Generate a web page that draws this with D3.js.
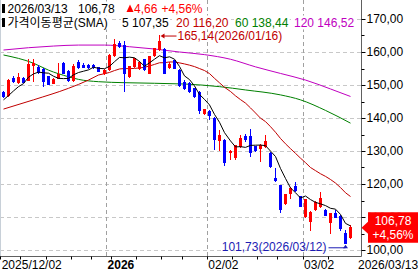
<!DOCTYPE html>
<html>
<head>
<meta charset="utf-8">
<title>SMA candles</title>
<script src="https://d3js.org/d3.v7.min.js"></script>
<style>
    body { margin: 0; background: #fff; }
    text { font-family: "Liberation Sans", "Noto Sans CJK KR", sans-serif; font-size: 12px; }
</style>
</head>
<body>
<svg id="chart" width="418" height="272"></svg>
<script>
// trading days: weekdays minus market holidays
const holidays = ["2025-12-25", "2026-01-01", "2026-01-19", "2026-02-16"];

// daily OHLC, 2025/12/02 .. 2026/03/13
const open = [147.7, 146.8, 152.0, 150.7, 152.0, 151.4, 155.9, 155.4, 154.8, 152.5,
    150.4, 152.0, 156.6, 154.2, 151.3, 156.8, 155.9, 155.9, 155.8, 155.2,
    153.6, 154.6, 158.8, 162.6, 162.1, 152.6, 155.5, 154.9, 157.6, 153.6,
    158.8, 160.7, 160.8, 155.4, 157.3, 154.5, 150.8, 150.5, 148.8, 147.8,
    141.4, 142.0, 139.9, 133.2, 133.3, 129.4, 128.0, 131.4, 134.5, 134.3,
    131.3, 130.8, 131.4, 129.3, 121.6, 119.4, 114.0, 117.0, 119.1, 116.2,
    110.2, 108.6, 112.2, 113.1, 112.1, 108.4, 111.2, 110.1, 105.0, 103.8];
const high = [148.1, 151.8, 152.6, 153.5, 152.3, 157.8, 157.9, 156.2, 155.3, 152.8,
    152.0, 156.6, 157.0, 154.5, 156.4, 157.5, 156.6, 156.4, 156.3, 155.5,
    154.8, 159.4, 163.8, 163.4, 163.3, 155.9, 158.2, 157.2, 158.0, 158.9,
    161.2, 165.14, 161.2, 157.0, 157.6, 155.0, 151.4, 151.0, 149.2, 148.2,
    142.8, 142.4, 140.3, 136.4, 133.6, 130.4, 131.9, 134.9, 135.3, 136.6,
    131.6, 132.0, 134.8, 129.6, 124.7, 119.6, 117.0, 119.0, 120.6, 116.5,
    115.5, 111.8, 114.8, 117.5, 112.4, 111.3, 112.0, 110.5, 106.0, 107.5];
const low = [146.0, 146.4, 150.5, 150.4, 150.6, 151.2, 151.0, 153.4, 149.4, 150.0,
    150.2, 151.8, 153.3, 150.9, 151.0, 155.0, 155.1, 155.0, 155.0, 153.8,
    152.9, 154.3, 158.5, 161.3, 147.8, 152.2, 155.2, 154.5, 154.2, 153.2,
    158.4, 160.3, 153.2, 154.8, 154.8, 149.5, 148.5, 147.6, 146.0, 141.2,
    141.0, 139.3, 130.3, 129.9, 125.6, 127.3, 127.4, 131.0, 132.8, 128.3,
    129.8, 126.8, 131.0, 124.7, 120.7, 111.2, 113.6, 115.4, 117.7, 112.9,
    109.8, 105.8, 111.8, 112.8, 110.2, 104.7, 109.7, 105.8, 101.73, 103.2];
const close = [146.6, 151.5, 151.0, 152.2, 150.8, 156.3, 156.5, 153.8, 151.0, 150.3,
    151.7, 153.3, 153.4, 151.3, 155.7, 155.2, 155.3, 155.4, 155.3, 154.1,
    154.5, 159.0, 162.4, 161.8, 153.5, 155.5, 158.0, 156.8, 154.6, 158.7,
    161.0, 163.3, 153.6, 156.1, 155.1, 150.0, 149.0, 148.0, 146.5, 142.2,
    142.5, 140.7, 133.5, 134.6, 126.5, 130.0, 131.6, 133.9, 133.5, 129.5,
    130.3, 131.8, 133.0, 125.3, 121.2, 112.2, 116.7, 118.7, 118.0, 113.2,
    115.2, 111.3, 114.5, 115.7, 110.6, 111.1, 110.0, 106.5, 102.12, 106.78];

const ma5Lead = [[0, 145.5], [1, 146.8], [2, 148.2], [3, 149.5]];
const ma20Lead = [[0, 142.7], [6, 145.5], [13, 149.0], [17, 151.5]];
const ma60 = [[0, 159.1], [6, 156.6], [9, 154.5], [13, 152.5], [15, 151.7], [19, 151.0], [24, 150.7],
    [36, 150.3], [43, 149.5], [48, 148.5], [55, 147.0], [59, 145.5], [64, 142.3], [69, 138.44]];
const ma120 = [[0, 160.6], [5, 161.3], [10, 161.8], [15, 162.1], [20, 162.1], [25, 161.6], [30, 160.9],
    [35, 160.0], [40, 159.2], [45, 157.8], [50, 155.5], [55, 153.5], [60, 151.5], [65, 148.8], [69, 146.52]];

const yTicks = [100, 110, 120, 130, 140, 150, 160, 170];
const yMinor = [105, 115, 125, 135, 145, 155, 165];
const xLabels = [["2025-12-02", "2025/12/02"], ["2026-01-02", "2026"], ["2026-02-02", "02/02"], ["2026-03-02", "03/02"]];
const lastDate = "2026/03/13";
const lastClose = 106.78, change = 4.66, changePct = 4.56;
const maLegend = [["5", 107.35], ["20", 116.20], ["60", 138.44], ["120", 146.52]];
const highMark = { day: "2026-01-16", value: 165.14, label: "2026/01/16" };
const lowMark = { day: "2026-03-12", value: 101.73, label: "2026/03/12" };

const RED = "#ff0000", BLUE = "#0000ff", MA20C = "#c00000", MA60C = "#008000", MA120C = "#c000c0";

const svg = d3.select("svg"),
    width = +svg.attr("width"),
    height = +svg.attr("height");

const fmtDay = d3.timeFormat("%Y-%m-%d");
const days = d3.timeDay.range(new Date(2025, 11, 2), new Date(2026, 2, 14))
    .filter(d => d.getDay() > 0 && d.getDay() < 6 && !holidays.includes(fmtDay(d)));
const keys = days.map(fmtDay);

const x = d3.scaleBand().domain(keys).range([0.7, 0.7 + 5.04 * keys.length]);
const y = d3.scaleLinear().domain([100, 170]).range([250, 19]);
const cx = i => Math.round(x(keys[i]) + x.bandwidth() / 2 - 1.5) + 1.5;
const num = (v, p = 2) => d3.format("." + p + "f")(v).replace(".", ",");

const right = 361.5, bottom = 256.5;

// grid
svg.append("g").selectAll("line").data(yTicks).join("line")
    .attr("x1", 0).attr("x2", right)
    .attr("y1", d => Math.round(y(d)) + 0.5).attr("y2", d => Math.round(y(d)) + 0.5)
    .attr("stroke", "#c8c8c8").attr("stroke-dasharray", "4,3");
svg.append("g").selectAll("line").data(xLabels.slice(1)).join("line")
    .attr("x1", d => Math.floor(x(d[0])) + 0.5).attr("x2", d => Math.floor(x(d[0])) + 0.5)
    .attr("y1", 0).attr("y2", bottom)
    .attr("stroke", "#a0a0a0").attr("stroke-dasharray", "4,3");
svg.append("line").attr("x1", 0.5).attr("x2", 0.5).attr("y1", 0).attr("y2", bottom).attr("stroke", "#c8d0d8");

// moving averages
const line = d3.line().x(d => cx(d[0])).y(d => y(d[1]));
const smooth = d3.line().x(d => cx(d[0])).y(d => y(d[1])).curve(d3.curveMonotoneX);
const sma = n => close.map((c, i) => i < n - 1 ? null : [i, d3.mean(close.slice(i - n + 1, i + 1))]).filter(d => d);

svg.append("path").attr("d", smooth(ma120)).attr("fill", "none").attr("stroke", MA120C);
svg.append("path").attr("d", smooth(ma60)).attr("fill", "none").attr("stroke", MA60C);
svg.append("path").attr("d", smooth(ma20Lead.concat([sma(20)[0]]))).attr("fill", "none").attr("stroke", MA20C);
svg.append("path").attr("d", line(sma(20))).attr("fill", "none").attr("stroke", MA20C);

// candles
const candles = svg.append("g").attr("shape-rendering", "crispEdges")
    .selectAll("g").data(d3.range(keys.length)).join("g")
    .attr("fill", i => close[i] >= open[i] ? RED : BLUE)
    .attr("stroke", i => close[i] >= open[i] ? RED : BLUE);
candles.append("line")
    .attr("x1", cx).attr("x2", cx)
    .attr("y1", i => y(high[i])).attr("y2", i => y(low[i]));
candles.append("rect")
    .attr("x", i => cx(i) - 1.5).attr("width", 2)
    .attr("y", i => y(Math.max(open[i], close[i])))
    .attr("height", i => Math.max(0.5, Math.abs(y(open[i]) - y(close[i]))));

svg.append("path").attr("d", line(ma5Lead.concat(sma(5)))).attr("fill", "none").attr("stroke", "#000");

// axes
svg.append("line").attr("x1", right).attr("x2", right).attr("y1", 0).attr("y2", bottom).attr("stroke", "#606060");
svg.append("line").attr("x1", 0).attr("x2", right).attr("y1", bottom).attr("y2", bottom).attr("stroke", "#606060");

const yc = y(lastClose);
const tagTop = yc - 15.5;

svg.append("clipPath").attr("id", "above-tag")
    .append("rect").attr("x", right).attr("y", 0).attr("width", 60).attr("height", tagTop);

const yAxis = svg.append("g");
yAxis.selectAll(".maj").data(yTicks).join("line")
    .attr("x1", right).attr("x2", right + 4)
    .attr("y1", d => Math.round(y(d)) + 0.5).attr("y2", d => Math.round(y(d)) + 0.5).attr("stroke", "#000");
yAxis.selectAll(".min").data(yMinor).join("line")
    .attr("x1", right).attr("x2", right + 3)
    .attr("y1", d => Math.round(y(d)) + 0.5).attr("y2", d => Math.round(y(d)) + 0.5).attr("stroke", "#000");
yAxis.selectAll("text").data(yTicks).join("text")
    .attr("x", right + 5).attr("y", d => y(d)).attr("dy", "0.36em")
    .attr("clip-path", d => Math.abs(y(d) - yc) < 20 ? "url(#above-tag)" : null)
    .text(d => num(d));

const weekStarts = keys.filter((k, i) => i === 0 || days[i].getDay() < days[i - 1].getDay());
svg.append("g").selectAll("line").data(weekStarts).join("line")
    .attr("x1", d => Math.floor(x(d)) + 0.5).attr("x2", d => Math.floor(x(d)) + 0.5)
    .attr("y1", bottom).attr("y2", bottom + 3).attr("stroke", "#000");
svg.append("g").selectAll("text").data(xLabels).join("text")
    .attr("x", d => x(d[0]) + 1).attr("y", 269)
    .attr("font-weight", d => d[1] === "2026" ? "bold" : null)
    .text(d => d[1]);
svg.append("text").attr("x", 358).attr("y", 269).text(lastDate);

// current price tag
svg.append("path")
    .attr("d", `M361.5,${yc}L368,${yc - 6}L368,${tagTop}L418,${tagTop}L418,${yc + 15}L368,${yc + 15}L368,${yc + 6}Z`)
    .attr("fill", RED);
svg.append("text").attr("x", 393).attr("y", yc - 3).attr("text-anchor", "middle").attr("fill", "#fff").text(num(lastClose));
svg.append("text").attr("x", 393).attr("y", yc + 11).attr("text-anchor", "middle").attr("fill", "#fff").text("+" + num(changePct) + "%");

// high / low markers
const hi = keys.indexOf(highMark.day), lo = keys.indexOf(lowMark.day);
const yh = y(highMark.value), yl = y(lowMark.value);
svg.append("path").attr("d", `M${cx(hi) + 1},${yh + 1}L${cx(hi) + 5},${yh - 1.5}L${cx(hi) + 5},${yh + 3.5}Z`).attr("fill", MA20C);
svg.append("line").attr("x1", cx(hi) + 4).attr("x2", cx(hi) + 17).attr("y1", yh + 1).attr("y2", yh + 1).attr("stroke", MA20C);
svg.append("text").attr("x", cx(hi) + 18).attr("y", yh + 5).attr("fill", MA20C)
    .text(num(highMark.value) + "(" + highMark.label + ")");
const LOWC = "#1c1cb4";
svg.append("text").attr("x", cx(lo) - 19).attr("y", yl + 7).attr("text-anchor", "end").attr("fill", LOWC)
    .text(num(lowMark.value) + "(" + lowMark.label + ")");
svg.append("line").attr("x1", cx(lo) - 17).attr("x2", cx(lo)).attr("y1", yl + 3.5).attr("y2", yl + 3.5).attr("stroke", LOWC);
svg.append("path").attr("d", `M${cx(lo)},${yl + 0.5}L${cx(lo) - 2.5},${yl + 4}L${cx(lo) + 2.5},${yl + 4}Z`).attr("fill", LOWC);

// header legend
const head = svg.append("g");
function label(xp, yp, str, color) {
    const t = head.append("text").attr("x", xp).attr("y", yp).attr("fill", color).text(str);
    const b = t.node().getBBox();
    head.insert("rect", "text").attr("x", b.x - 1).attr("y", b.y).attr("width", b.width + 2).attr("height", b.height).attr("fill", "#fff");
}
head.append("rect").attr("x", 2).attr("y", 4).attr("width", 3).attr("height", 9).attr("fill", "#000");
head.append("rect").attr("x", 2).attr("y", 18).attr("width", 3).attr("height", 9).attr("fill", "#000");
label(7.5, 12.5, lastDate, "#000");
label(78, 12.5, num(lastClose), "#000");
head.append("path").attr("d", "M126.5,12L130,4.5L133.5,12Z").attr("fill", RED);
label(134, 12.5, num(change), RED);
label(161.5, 12.5, "+" + num(changePct) + "%", RED);
label(7.5, 26.5, "가격이동평균(SMA)", "#000");
const legX = [122, 176, 235, 294], legC = ["#000", MA20C, MA60C, MA120C];
maLegend.forEach((d, i) => label(legX[i], 26.5, d[0] + " " + num(d[1]), legC[i]));
</script>
</body>
</html>
